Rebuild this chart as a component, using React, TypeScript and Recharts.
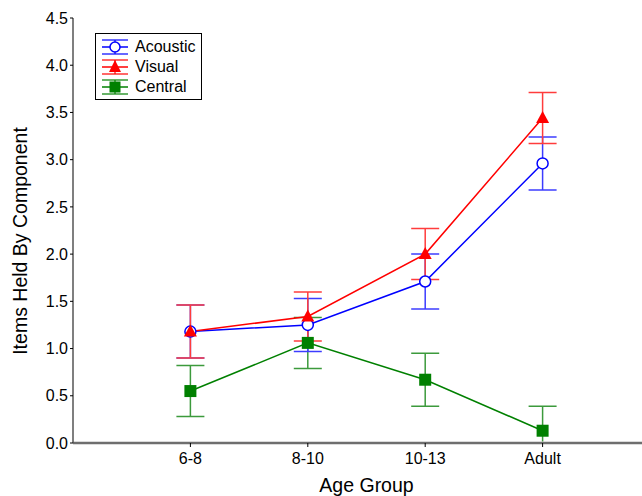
import React from "react";
import {
  LineChart,
  Line,
  XAxis,
  YAxis,
  ErrorBar,
  Label,
} from "recharts";

const ageGroups = ["6-8", "8-10", "10-13", "Adult"];
const acoustic = [1.18, 1.25, 1.71, 2.96];
const acousticErr = [0.28, 0.28, 0.29, 0.28];
const visual = [1.18, 1.34, 2.0, 3.44];
const visualErr = [0.28, 0.26, 0.27, 0.27];
const central = [0.55, 1.06, 0.67, 0.13];
const centralErr = [0.27, 0.27, 0.28, 0.26];
const yTicks = [0, 0.5, 1, 1.5, 2, 2.5, 3, 3.5, 4, 4.5];

const data = ageGroups.map((g, i) => ({
  x: i + 1,
  group: g,
  acoustic: acoustic[i],
  acousticErr: acousticErr[i],
  visual: visual[i],
  visualErr: visualErr[i],
  central: central[i],
  centralErr: centralErr[i],
}));

const FONT = "'Liberation Sans', Arial, sans-serif";
const BLUE = "#0000ff";
const RED = "#ff0000";
const GREEN = "#008000";

const CircleDot = (props: any) => {
  const { cx, cy } = props;
  if (cx == null || cy == null) return null;
  return <circle cx={cx} cy={cy} r={5.5} fill="#fff" stroke={BLUE} strokeWidth={1.5} />;
};

const TriangleDot = (props: any) => {
  const { cx, cy } = props;
  if (cx == null || cy == null) return null;
  return (
    <polygon
      points={`${cx},${cy - 7} ${cx - 6.5},${cy + 5} ${cx + 6.5},${cy + 5}`}
      fill={RED}
    />
  );
};

const SquareDot = (props: any) => {
  const { cx, cy } = props;
  if (cx == null || cy == null) return null;
  return <rect x={cx - 6} y={cy - 6} width={12} height={12} fill={GREEN} />;
};

const legendItems = [
  { name: "Acoustic", color: BLUE, shape: "circle" },
  { name: "Visual", color: RED, shape: "triangle" },
  { name: "Central", color: GREEN, shape: "square" },
];

const LegendBox = () => (
  <div
    style={{
      position: "absolute",
      left: 95,
      top: 33,
      boxSizing: "border-box",
      width: 107,
      height: 67,
      border: "1px solid #000",
      background: "#fff",
      padding: "3px 0 0 6px",
      fontFamily: FONT,
      fontSize: 16,
    }}
  >
    {legendItems.map((it) => (
      <div key={it.name} style={{ display: "flex", alignItems: "center", height: 20 }}>
        <svg width={26} height={18} style={{ marginRight: 7 }}>
          <line x1={0} y1={2} x2={26} y2={2} stroke={it.color} strokeWidth={1.2} />
          <line x1={0} y1={16} x2={26} y2={16} stroke={it.color} strokeWidth={1.2} />
          <line x1={0} y1={9} x2={26} y2={9} stroke={it.color} strokeWidth={1.5} />
          <line x1={13} y1={2} x2={13} y2={16} stroke={it.color} strokeWidth={1.2} />
          {it.shape === "circle" && (
            <circle cx={13} cy={9} r={5} fill="#fff" stroke={it.color} strokeWidth={1.5} />
          )}
          {it.shape === "triangle" && <polygon points="13,2 7,14 19,14" fill={it.color} />}
          {it.shape === "square" && <rect x={7.5} y={3.5} width={11} height={11} fill={it.color} />}
        </svg>
        <span style={{ lineHeight: "18px" }}>{it.name}</span>
      </div>
    ))}
  </div>
);

const tickStyle = { fill: "#000", fontSize: 16, fontFamily: FONT };

const YTitle = () => (
  <text
    x={20}
    y={241}
    transform="rotate(-90, 20, 241)"
    textAnchor="middle"
    dominantBaseline="central"
    fill="#000"
    fontSize={19.5}
    fontFamily={FONT}
  >
    Items Held By Component
  </text>
);

export default function App() {
  return (
    <div
      style={{
        position: "absolute",
        left: 0,
        top: 0,
        width: 642,
        height: 496,
        overflow: "hidden",
        background: "#fff",
      }}
    >
      <style>{`.recharts-errorBars, .recharts-errorBar { clip-path: url(#plotClip); }`}</style>
      <svg width={0} height={0} style={{ position: "absolute" }}>
        <defs>
          <clipPath id="plotClip" clipPathUnits="userSpaceOnUse">
            <rect x={60} y={10} width={600} height={431.5} />
          </clipPath>
        </defs>
      </svg>
      <LineChart
        width={660}
        height={496}
        data={data}
        margin={{ top: 18, right: 0, left: 0, bottom: 0 }}
      >
        <XAxis
          dataKey="x"
          type="number"
          domain={[0, 5]}
          allowDataOverflow
          ticks={[1, 2, 3, 4]}
          tickFormatter={(v: number) => ageGroups[v - 1]}
          tick={tickStyle}
          tickSize={4}
          tickMargin={6}
          height={53}
          axisLine={{ stroke: "#6e6e6e", strokeWidth: 2.5 }}
          tickLine={{ stroke: "#000" }}
        >
          <Label
            value="Age Group"
            position="insideBottom"
            offset={4}
            style={{ fill: "#000", fontSize: 19.5, fontFamily: FONT }}
          />
        </XAxis>
        <XAxis
          xAxisId="top"
          dataKey="x"
          type="number"
          orientation="top"
          domain={[0, 5]}
          allowDataOverflow
          ticks={[1, 2, 3, 4]}
          height={0}
          mirror
          tickSize={3}
          tickFormatter={() => ""}
          axisLine={{ stroke: "#000" }}
          tickLine={{ stroke: "#000" }}
        />
        <YAxis
          type="number"
          domain={[0, 4.5]}
          allowDataOverflow
          ticks={yTicks}
          tickFormatter={(v: number) => v.toFixed(1)}
          tick={tickStyle}
          tickSize={3}
          width={73}
          axisLine={{ stroke: "#555", strokeWidth: 1.5 }}
          tickLine={{ stroke: "#000" }}
        >
          <Label content={<YTitle />} />
        </YAxis>
        <YAxis
          yAxisId="right"
          orientation="right"
          type="number"
          domain={[0, 4.5]}
          allowDataOverflow
          ticks={yTicks}
          width={17}
          mirror
          tickSize={3}
          tickFormatter={() => ""}
          axisLine={{ stroke: "#000" }}
          tickLine={{ stroke: "#000" }}
        />
        <Line
          dataKey="central"
          type="linear"
          stroke={GREEN}
          strokeWidth={1.5}
          dot={<SquareDot />}
          activeDot={false}
          isAnimationActive={false}
        >
          <ErrorBar dataKey="centralErr" width={14} stroke="#3c9a3c" strokeWidth={1.5} direction="y" />
        </Line>
        <Line
          dataKey="acoustic"
          type="linear"
          stroke={BLUE}
          strokeWidth={1.5}
          dot={<CircleDot />}
          activeDot={false}
          isAnimationActive={false}
        >
          <ErrorBar dataKey="acousticErr" width={14} stroke="#3c3cff" strokeWidth={1.5} direction="y" />
        </Line>
        <Line
          dataKey="visual"
          type="linear"
          stroke={RED}
          strokeWidth={1.5}
          dot={<TriangleDot />}
          activeDot={false}
          isAnimationActive={false}
        >
          <ErrorBar dataKey="visualErr" width={14} stroke="#ff3c3c" strokeWidth={1.5} direction="y" />
        </Line>
      </LineChart>
      <LegendBox />
    </div>
  );
}
